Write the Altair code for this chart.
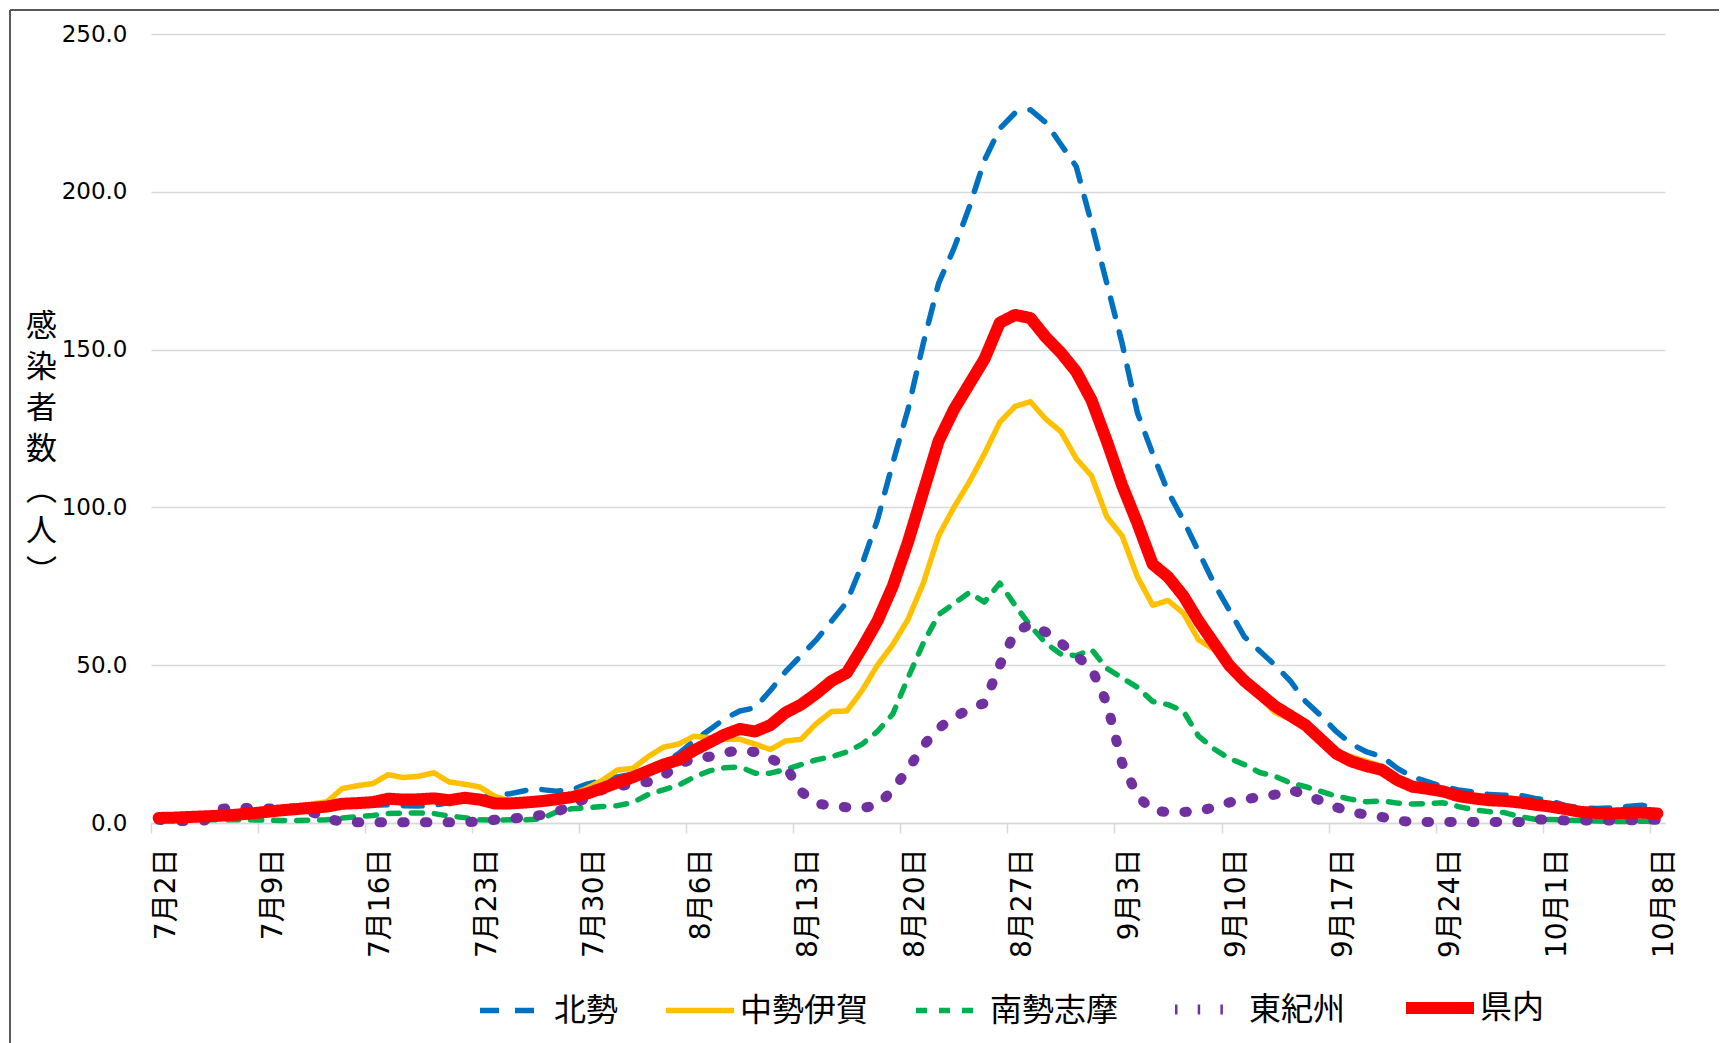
import altair as alt
import pandas as pd

# ---------------- data ----------------
tick_labels = ["7月2日", "7月9日", "7月16日", "7月23日", "7月30日", "8月6日", "8月13日",
               "8月20日", "8月27日", "9月3日", "9月10日", "9月17日", "9月24日", "10月1日", "10月8日"]
days = list(range(99))  # 7/2 .. 10/8

series_names = ["北勢", "中勢伊賀", "南勢志摩", "東紀州", "県内"]

hokusei = [
    1.5, 1.6, 1.8, 2.0, 2.2, 2.5, 2.9, 3.3, 3.7, 4.1,
    4.5, 4.8, 5.3, 5.5, 5.6, 5.8, 5.5, 5.4, 5.6, 6.5,
    7.5, 8.0, 8.8, 9.3, 10.3, 10.6, 10.1, 10.5, 12.3, 13.5,
    14.6, 15.5, 17.0, 19.0, 22.0, 26.0, 29.5, 33.0, 35.5, 36.5,
    42.0, 48.0, 53.0, 58.0, 64.0, 70.0, 82.0, 96.0, 114.0, 131.0,
    152.0, 171.0, 182.0, 195.0, 210.0, 220.0, 225.0, 226.0, 222.0, 215.0,
    208.0, 190.0, 171.0, 152.0, 130.0, 117.0, 105.0, 96.0, 86.0, 76.0,
    67.5, 59.0, 54.5, 50.0, 45.0, 38.5, 34.0, 29.0, 25.0, 22.5,
    21.0, 17.3, 14.6, 13.0, 11.5, 10.5, 9.8, 9.0, 8.8, 8.8,
    7.8, 7.0, 5.5, 4.8, 4.6, 4.8, 5.2, 5.6, 5.0]

chusei_iga = [
    1.5, 1.6, 1.8, 2.0, 2.2, 2.5, 3.0, 3.5, 4.3, 5.3,
    6.0, 6.7, 10.9, 11.8, 12.5, 15.3, 14.4, 14.8, 15.9, 13.0,
    12.3, 11.4, 8.4, 7.0, 7.0, 7.3, 8.0, 9.0, 11.0, 13.5,
    16.8, 17.3, 21.0, 24.0, 25.0, 27.5, 27.0, 26.5, 26.5, 25.0,
    23.3, 26.0, 26.5, 31.5, 35.3, 35.5, 42.0, 50.0, 56.5, 64.5,
    76.0, 91.0, 100.0, 108.0, 117.0, 127.0, 132.0, 133.5, 128.0, 124.0,
    115.5, 110.0, 97.0, 91.0, 78.0, 69.0, 70.5, 66.5, 58.0, 55.0,
    50.0, 45.0, 40.0, 35.0, 33.0, 30.0, 26.0, 22.5, 21.0, 19.5,
    18.0, 14.0, 12.0, 11.0, 10.0, 8.5, 7.8, 7.2, 7.0, 6.5,
    5.8, 5.0, 4.3, 3.5, 3.0, 3.0, 3.0, 3.0, 3.0]

nansei_shima = [
    1.0, 1.0, 1.0, 1.0, 1.0, 1.0, 1.0, 0.9, 0.8, 0.8,
    0.9, 1.0, 1.6, 2.0, 2.4, 3.0, 3.1, 3.2, 3.0, 2.2,
    1.7, 1.0, 0.9, 1.0, 1.0, 1.3, 3.5, 4.5, 4.8, 5.2,
    5.5, 6.5, 9.0, 10.5, 12.0, 14.5, 16.5, 17.5, 17.8, 15.8,
    15.8, 17.0, 18.5, 20.0, 21.0, 22.5, 25.0, 29.0, 34.5, 46.0,
    57.0, 66.0, 69.5, 73.0, 70.0, 76.0, 69.0, 62.5, 57.0, 53.5,
    53.0, 55.0, 49.0, 46.0, 43.0, 38.5, 37.5, 35.5, 27.5, 23.5,
    20.5, 18.5, 16.0, 14.8, 12.7, 11.5, 10.0, 8.5, 7.5, 6.7,
    7.0, 6.3, 6.0, 6.2, 6.4, 5.2, 4.2, 3.6, 3.3, 2.0,
    1.2, 1.1, 0.9, 0.8, 0.6, 0.5, 0.5, 0.6, 0.4]

higashikishu = [
    1.0, 0.6, 0.6, 0.8, 4.5, 4.8, 4.7, 4.6, 4.6, 4.6,
    3.5, 1.5, 0.3, 0.2, 0.2, 0.2, 0.2, 0.2, 0.2, 0.2,
    0.2, 0.5, 1.0, 1.4, 1.8, 2.5, 3.5, 5.5, 8.0, 10.5,
    11.5, 12.5, 13.0, 15.0, 18.5, 20.5, 21.0, 22.3, 23.0, 22.5,
    20.5, 18.0, 10.0, 6.3, 5.3, 5.0, 4.8, 5.5, 10.5, 17.0,
    24.5, 30.0, 33.5, 36.0, 38.0, 50.0, 60.5, 63.0, 60.5, 57.0,
    53.0, 49.0, 38.0, 19.0, 8.7, 3.8, 3.5, 3.5, 3.7, 5.0,
    6.5, 7.5, 8.2, 9.0, 10.5, 9.0, 7.0, 5.0, 3.5, 2.6,
    1.9, 0.8, 0.3, 0.3, 0.3, 0.3, 0.3, 0.3, 0.3, 0.3,
    1.2, 1.0, 0.8, 0.8, 0.8, 0.8, 0.8, 1.0, 1.0]

kennai = [
    1.6, 1.7, 1.9, 2.1, 2.3, 2.6, 3.0, 3.5, 4.0, 4.4,
    4.8, 5.2, 6.1, 6.3, 6.6, 7.7, 7.4, 7.5, 7.8, 7.2,
    8.0, 7.4, 6.2, 6.2, 6.5, 6.9, 7.5, 8.2, 9.3, 11.0,
    12.8, 14.5, 16.5, 18.5, 20.0, 23.0, 25.5, 28.0, 29.8, 29.0,
    31.0, 35.0, 37.5, 41.0, 45.0, 47.6, 55.5, 64.0, 75.0, 89.0,
    105.0, 121.0, 131.0, 139.0, 147.0, 158.5, 161.0, 160.0, 154.0, 149.0,
    143.0, 134.0, 121.0, 107.0, 95.0, 82.0, 78.0, 72.0, 64.0, 57.0,
    50.0, 45.0, 41.0, 37.0, 34.0, 31.0, 26.5, 22.0, 19.5, 18.0,
    16.8, 13.6, 11.5, 10.8, 10.0, 8.5, 7.8, 7.2, 7.0, 6.5,
    5.8, 5.2, 4.4, 3.5, 3.2, 3.0, 3.2, 3.3, 3.0]

series_values = [hokusei, chusei_iga, nansei_shima, higashikishu, kennai]

# ---------------- styles ----------------
colors = ["#0070C0", "#FFC000", "#00B050", "#7030A0", "#FF0000"]
dashes = [[19, 16], [1, 0], [11, 12], [2.5, 20.2], [1, 0]]
widths = [5.5, 5.5, 5.5, 10, 12]
y_ticks = [0, 50, 100, 150, 200, 250]
y_title = ["感", "染", "者", "数", "︵", "人", "︶"]

FONT = "DejaVu Sans, Noto Sans CJK JP, sans-serif"
CJK = "Noto Sans CJK JP, sans-serif"

rows = []
for name, vals in zip(series_names, series_values):
    for d, v in zip(days, vals):
        rows.append({"day": d, "series": name, "value": v})
df = pd.DataFrame(rows)

tick_values = [d - 0.5 for d in days[::7]]
label_expr = "[" + ",".join("'%s'" % s for s in tick_labels) + "][round((datum.value + 0.5) / 7)]"

legend = alt.Legend(
    title=None, orient="none", legendX=323, legendY=934, direction="horizontal",
    columns=5, symbolType="stroke", symbolSize=4624, labelFont=CJK, labelFontSize=32,
    labelColor="#000000", labelOffset=0, columnPadding=36, padding=0,
    gridAlign="each", labelLimit=400,
)

base = alt.Chart(df).encode(
    x=alt.X(
        "day:Q",
        scale=alt.Scale(domain=[-0.5, 98.5], nice=False, zero=False),
        axis=alt.Axis(
            values=tick_values, labelExpr=label_expr, labelAngle=270, labelAlign="right",
            labelBaseline="middle", labelFontSize=28, labelFont=FONT, labelColor="#000000",
            labelPadding=15, labelOffset=15, tickSize=10, tickColor="#d9d9d9", tickWidth=1.5,
            domainColor="#d9d9d9", domainWidth=1.5, grid=False, title=None,
            labelOverlap=False, labelFlush=False, labelBound=False,
        ),
    ),
    y=alt.Y(
        "value:Q",
        scale=alt.Scale(domain=[0, 250], nice=False),
        axis=alt.Axis(
            values=y_ticks, format=".1f", labelFontSize=23, labelFont="DejaVu Sans",
            labelColor="#000000", labelPadding=24, ticks=False, domain=False, grid=True,
            gridColor="#d9d9d9", gridWidth=1.3, title=y_title, titleAngle=0, titleFont=CJK,
            titleFontSize=31, titleFontWeight="normal", titleLineHeight=41, titleX=-110,
            titleY=292, titleAlign="center", titleBaseline="middle", titleColor="#000000",
        ),
    ),
    color=alt.Color("series:N", scale=alt.Scale(domain=series_names, range=colors), legend=legend),
    strokeDash=alt.StrokeDash("series:N", scale=alt.Scale(domain=series_names, range=dashes), legend=legend),
    strokeWidth=alt.StrokeWidth("series:N", scale=alt.Scale(type="ordinal", domain=series_names, range=widths), legend=legend),
)

line_layers = [
    base.transform_filter(alt.datum.series == name).mark_line(strokeCap="round", strokeJoin="round")
    for name in series_names
]

frame_data = alt.Data(values=[{"k": 0}])
frame_left = alt.Chart(frame_data).mark_rule(color="#595959", strokeWidth=2).encode(
    x=alt.value(-141), y=alt.value(-24), y2=alt.value(1012))
frame_top = alt.Chart(frame_data).mark_rule(color="#595959", strokeWidth=2).encode(
    x=alt.value(-141), x2=alt.value(1570), y=alt.value(-24))

chart = alt.layer(*line_layers, frame_left, frame_top).properties(
    width=1514, height=789,
    autosize=alt.AutoSizeParams(type="none"),
    padding={"left": 143, "top": 26, "right": 54, "bottom": 220},
    background="#ffffff",
).configure_view(stroke=None)

chart.save("out.html", embed_options={"renderer": "svg", "actions": False})
